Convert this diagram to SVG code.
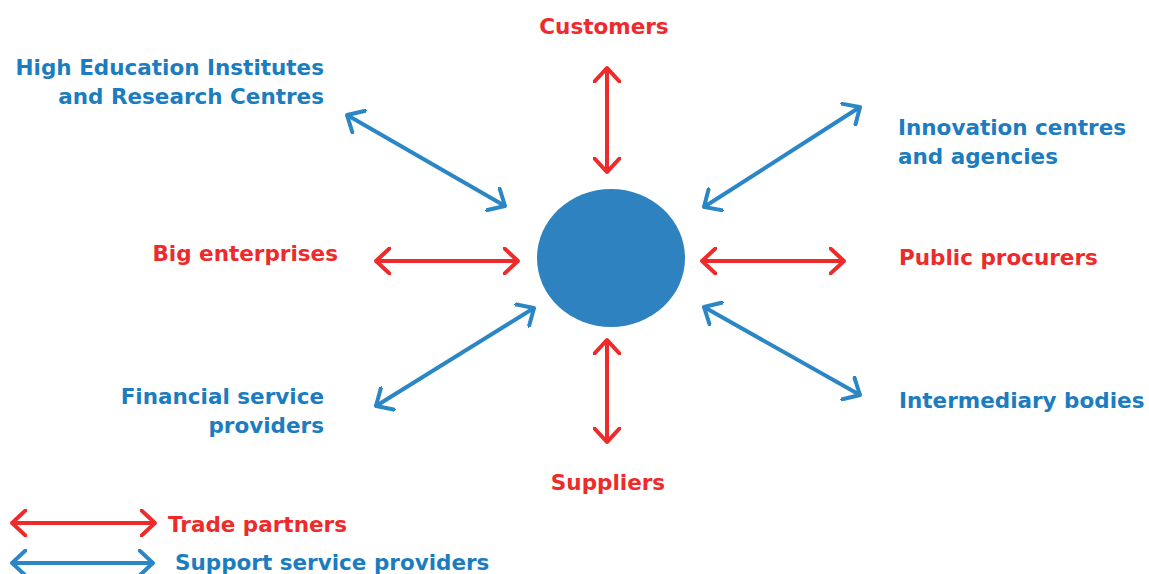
<svg xmlns="http://www.w3.org/2000/svg" width="1149" height="574" viewBox="0 0 1149 574">
<defs>
<style>
.t{font-family:"DejaVu Sans",Verdana,sans-serif;font-weight:bold;font-size:21.5px}
.r{fill:#EE2A2A}
.b{fill:#1C7CC0}
.lr{stroke:#EE2A2A;stroke-width:4;fill:none;stroke-linecap:round}
.lb{stroke:#2A86C4;stroke-width:4;fill:none;stroke-linecap:round}
</style>
<marker id="mr" viewBox="0 0 16 28" refX="15" refY="14" markerWidth="16" markerHeight="28" markerUnits="userSpaceOnUse" orient="auto-start-reverse">
<path d="M1,1 L15,14 L1,27" fill="none" stroke="#EE2A2A" stroke-width="4" stroke-linecap="round" stroke-linejoin="miter"/>
</marker>
<marker id="mb" viewBox="0 0 16 28" refX="15" refY="14" markerWidth="16" markerHeight="28" markerUnits="userSpaceOnUse" orient="auto-start-reverse">
<path d="M1,1 L15,14 L1,27" fill="none" stroke="#2A86C4" stroke-width="4" stroke-linecap="round" stroke-linejoin="miter"/>
</marker>
</defs>
<rect width="1149" height="574" fill="#fff"/>
<g id="center"><ellipse cx="611" cy="258" rx="74" ry="69" fill="#2E82C0"/></g>
<g id="connectors">
<line class="lr" x1="607" y1="68" x2="607" y2="172" marker-start="url(#mr)" marker-end="url(#mr)"/>
<line class="lr" x1="607" y1="340" x2="607" y2="442" marker-start="url(#mr)" marker-end="url(#mr)"/>
<line class="lr" x1="376" y1="261" x2="518" y2="261" marker-start="url(#mr)" marker-end="url(#mr)"/>
<line class="lr" x1="702" y1="261" x2="844" y2="261" marker-start="url(#mr)" marker-end="url(#mr)"/>
<line class="lb" x1="347" y1="115" x2="505" y2="206" marker-start="url(#mb)" marker-end="url(#mb)"/>
<line class="lb" x1="860" y1="107" x2="704" y2="207" marker-start="url(#mb)" marker-end="url(#mb)"/>
<line class="lb" x1="376" y1="406" x2="534" y2="308" marker-start="url(#mb)" marker-end="url(#mb)"/>
<line class="lb" x1="704" y1="307" x2="860" y2="395" marker-start="url(#mb)" marker-end="url(#mb)"/>
<line class="lr" x1="12" y1="523" x2="155" y2="523" marker-start="url(#mr)" marker-end="url(#mr)"/>
<line class="lb" x1="12" y1="563" x2="153" y2="563" marker-start="url(#mb)" marker-end="url(#mb)"/>
</g>
<g id="customers"><text class="t r" x="604" y="34" text-anchor="middle">Customers</text></g>
<g id="hei"><text class="t b" x="324" y="75" text-anchor="end">High Education Institutes</text><text class="t b" x="324" y="104" text-anchor="end">and Research Centres</text></g>
<g id="innovation"><text class="t b" x="898" y="135">Innovation centres</text><text class="t b" x="898" y="164">and agencies</text></g>
<g id="big"><text class="t r" x="338" y="261" text-anchor="end">Big enterprises</text></g>
<g id="public"><text class="t r" x="899" y="265">Public procurers</text></g>
<g id="financial"><text class="t b" x="324" y="404" text-anchor="end">Financial service</text><text class="t b" x="324" y="433" text-anchor="end">providers</text></g>
<g id="intermediary"><text class="t b" x="899" y="408">Intermediary bodies</text></g>
<g id="suppliers"><text class="t r" x="608" y="490" text-anchor="middle">Suppliers</text></g>
<g id="legend"><text class="t r" x="168" y="532">Trade partners</text><text class="t b" x="175" y="570">Support service providers</text></g>
</svg>
